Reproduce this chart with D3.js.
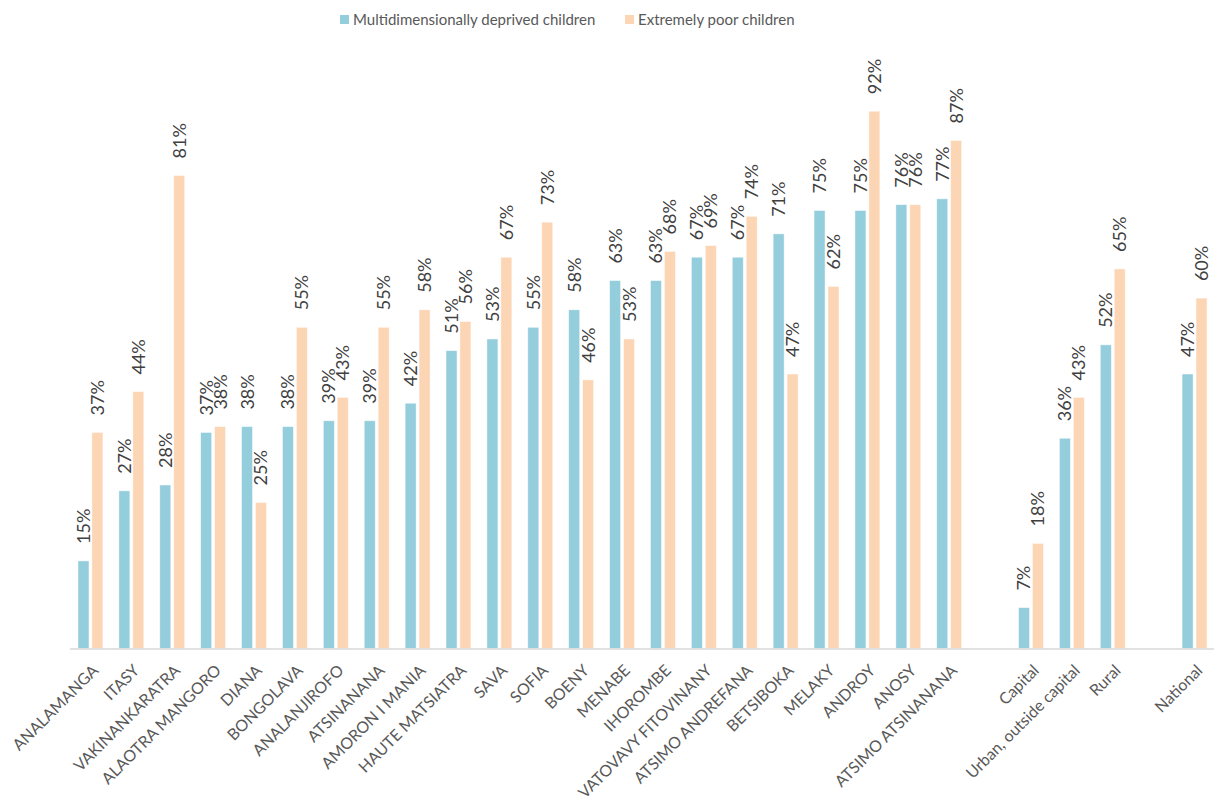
<!DOCTYPE html>
<html>
<head>
<meta charset="utf-8">
<script src="https://cdn.jsdelivr.net/npm/d3@7"></script>
<style>
  html, body { margin: 0; padding: 0; background: #fff; }
  svg { display: block; }
  text { font-family: Lato, "Open Sans", sans-serif; }
</style>
</head>
<body>
<div id="chart"></div>
<script>
const categories = [
  "ANALAMANGA", "ITASY", "VAKINANKARATRA", "ALAOTRA MANGORO", "DIANA", "BONGOLAVA",
  "ANALANJIROFO", "ATSINANANA", "AMORON I MANIA", "HAUTE MATSIATRA", "SAVA", "SOFIA",
  "BOENY", "MENABE", "IHOROMBE", "VATOVAVY FITOVINANY", "ATSIMO ANDREFANA", "BETSIBOKA",
  "MELAKY", "ANDROY", "ANOSY", "ATSIMO ATSINANANA",
  "", "Capital", "Urban, outside capital", "Rural",
  " ", "National"
];
const deprived = [
  0.15, 0.27, 0.28, 0.37, 0.38, 0.38, 0.39, 0.39, 0.42, 0.51, 0.53, 0.55,
  0.58, 0.63, 0.63, 0.67, 0.67, 0.71, 0.75, 0.75, 0.76, 0.77,
  null, 0.07, 0.36, 0.52,
  null, 0.47
];
const poor = [
  0.37, 0.44, 0.81, 0.38, 0.25, 0.55, 0.43, 0.55, 0.58, 0.56, 0.67, 0.73,
  0.46, 0.53, 0.68, 0.69, 0.74, 0.47, 0.62, 0.92, 0.76, 0.87,
  null, 0.18, 0.43, 0.65,
  null, 0.60
];
const seriesNames = ["Multidimensionally deprived children", "Extremely poor children"];
const seriesColors = ["#94CDDC", "#FCD5B4"];

const W = 1214, H = 801;
const svg = d3.select("#chart").append("svg").attr("width", W).attr("height", H);

const x = d3.scaleBand().domain(categories).range([70, 1215]).paddingInner(0).paddingOuter(0);
const step = x.step();
const xSub = d3.scaleBand().domain([0, 1]).range([step * 0.195, step * 0.805]).paddingInner(0.21);
const y = d3.scaleLinear().domain([0, 1]).range([648.5, 64.5]);

const rows = categories.map((c, i) => ({ c, vals: [deprived[i], poor[i]] }));

const g = svg.append("g");
const groups = g.selectAll("g.grp").data(rows).join("g")
  .attr("transform", d => `translate(${x(d.c)},0)`);

groups.each(function(d) {
  const sel = d3.select(this);
  d.vals.forEach((v, k) => {
    if (v == null) return;
    sel.append("rect")
      .attr("x", xSub(k))
      .attr("y", y(v))
      .attr("width", xSub.bandwidth())
      .attr("height", y(0) - y(v))
      .attr("fill", seriesColors[k])
      .attr("stroke", "#ffffff")
      .attr("stroke-opacity", 0.6)
      .attr("stroke-width", 0.8);
    const cx = xSub(k) + xSub.bandwidth() / 2;
    sel.append("text")
      .attr("transform", `translate(${cx},${y(v) - 17}) rotate(-90)`)
      .attr("text-anchor", "start")
      .attr("dy", "0.36em")
      .attr("fill", "#404040")
      .attr("font-size", 18)
      .text(Math.round(v * 100) + "%");
  });
});

// axis
const axis = d3.axisBottom(x).tickSize(0).tickSizeOuter(0);
const ax = svg.append("g").attr("transform", `translate(0,${y(0)})`).call(axis);
ax.select(".domain").attr("stroke", "#D9D9D9").attr("stroke-width", 1.5).attr("d", "M70,0.5H1214");
ax.selectAll(".tick text")
  .attr("fill", "#595959")
  .attr("font-size", 16)
  .attr("text-anchor", "end")
  .attr("transform", "translate(9,23) rotate(-45)")
  .attr("dy", 0)
  .attr("x", 0)
  .attr("y", 0);

// legend
const legend = svg.append("g");
const lx = [340, 625];
seriesNames.forEach((n, k) => {
  legend.append("rect").attr("x", lx[k]).attr("y", 15).attr("width", 9).attr("height", 9).attr("fill", seriesColors[k]);
  legend.append("text").attr("x", lx[k] + 13).attr("y", 20).attr("dy", "0.36em")
    .attr("fill", "#595959").attr("font-size", 15).text(n);
});
</script>
</body>
</html>
